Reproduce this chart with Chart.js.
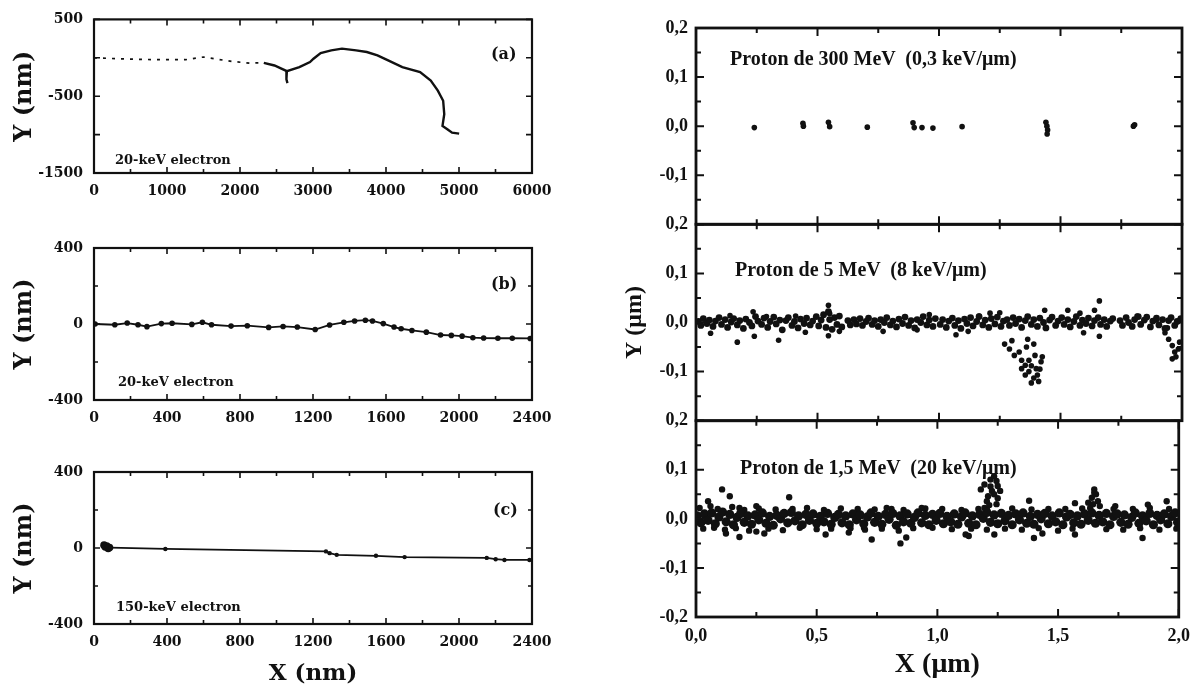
<!DOCTYPE html>
<html lang="fr">
<head>
<meta charset="UTF-8">
<title>Traces d'électrons et de protons</title>
<script src="https://cdn.jsdelivr.net/npm/chart.js"></script>
<style>
  html, body { margin: 0; padding: 0; background: #fff; overflow: hidden; }
  #page { position: relative; width: 1199px; height: 688px; }
  canvas { position: absolute; left: 0; top: 0; }
  .lbl { position: absolute; white-space: pre; color: #111; font-weight: bold; line-height: 1; }
  .l { font-family: "DejaVu Serif", serif; font-size: 13px; }
  .tag { font-family: "DejaVu Serif", serif; font-size: 16px; }
  .r { font-family: "Liberation Serif", serif; font-size: 20px; }
</style>
</head>
<body>
<div id="page">
  <canvas id="ga" width="1199" height="688"></canvas>
  <canvas id="gb" width="1199" height="688"></canvas>
  <canvas id="gc" width="1199" height="688"></canvas>
  <canvas id="g300" width="1199" height="688"></canvas>
  <canvas id="g5" width="1199" height="688"></canvas>
  <canvas id="g15" width="1199" height="688"></canvas>

  <div class="lbl tag" style="left:491px;top:46px">(a)</div>
  <div class="lbl l" style="left:115px;top:153px">20-keV electron</div>
  <div class="lbl tag" style="left:491px;top:276px">(b)</div>
  <div class="lbl l" style="left:118px;top:375px">20-keV electron</div>
  <div class="lbl tag" style="left:493px;top:502px">(c)</div>
  <div class="lbl l" style="left:116px;top:600px">150-keV electron</div>

  <div class="lbl r" style="left:730px;top:48px">Proton de 300 MeV  (0,3 keV/μm)</div>
  <div class="lbl r" style="left:735px;top:259px">Proton de 5 MeV  (8 keV/μm)</div>
  <div class="lbl r" style="left:740px;top:457px">Proton de 1,5 MeV  (20 keV/μm)</div>
</div>

<script>
  // ---- (a) électron 20 keV, X 0..6000 nm
  const aDottedX = [0, 331, 671, 963, 1255, 1499, 1645, 1888, 2131, 2326];
  const aDottedY = [0, -12, -21, -25, -25, 10, -12, -47, -69, -65];
  const aTrackX = [2326, 2472, 2642, 2813, 2959, 3007, 3105, 3250, 3397, 3591, 3737, 3883, 4029, 4224, 4467, 4613, 4710, 4783, 4798, 4774, 4840, 4905, 5002];
  const aTrackY = [-65, -100, -174, -121, -56, -12, 62, 97, 119, 97, 75, 32, -34, -121, -187, -296, -428, -559, -734, -887, -930, -975, -988];
  const aBranchX = [2642, 2636, 2650];
  const aBranchY = [-174, -280, -330];

  // ---- (b) électron 20 keV, X 0..2400 nm
  const bX = [6, 114, 182, 241, 290, 369, 428, 536, 594, 644, 751, 840, 957, 1036, 1114, 1212, 1291, 1369, 1428, 1487, 1526, 1585, 1644, 1683, 1742, 1821, 1899, 1958, 2017, 2076, 2135, 2213, 2292, 2390];
  const bY = [0, -4, 5, -4, -14, 2, 4, -2, 9, -4, -11, -9, -18, -13, -16, -29, -5, 9, 16, 20, 16, 2, -16, -25, -34, -43, -58, -60, -64, -72, -74, -75, -75, -76];

  // ---- (c) électron 150 keV
  const cX = [88, 391, 1271, 1291, 1330, 1545, 1702, 2152, 2201, 2249, 2386];
  const cY = [2, -5, -18, -27, -36, -41, -48, -52, -59, -63, -63];
  const cBlobX = [55, 62, 70, 78, 85];
  const cBlobY = [15, 5, 10, -3, 3];

  // ---- protons, X 0..2 µm, Y -0.2..0.2 µm
  const p300X = [0.24, 0.44, 0.442, 0.545, 0.55, 0.705, 0.893, 0.898, 0.93, 0.975, 1.095, 1.44, 1.444, 1.447, 1.445, 1.80, 1.805];
  const p300Y = [-0.003, 0.006, 0.0, 0.008, -0.001, -0.002, 0.007, -0.003, -0.003, -0.004, -0.001, 0.008, 0.0, -0.008, -0.016, 0.0, 0.003];

  const p5Core = [
    [0.01,0.002],[0.02,-0.006],[0.03,0.008],[0.045,-0.002],[0.055,0.005],[0.07,-0.008],[0.08,0.003],[0.095,0.01],[0.105,-0.004],[0.12,0.006],
    [0.13,-0.01],[0.145,0.001],[0.155,0.008],[0.17,-0.005],[0.18,0.004],[0.195,-0.012],[0.205,0.007],[0.22,0.0],[0.23,-0.007],[0.245,0.012],
    [0.255,0.003],[0.27,-0.004],[0.28,0.009],[0.295,-0.01],[0.305,0.002],[0.32,0.011],[0.33,-0.003],[0.345,0.005],[0.355,-0.015],[0.37,0.004],
    [0.38,0.01],[0.395,-0.006],[0.405,0.002],[0.42,-0.011],[0.43,0.007],[0.445,-0.002],[0.455,0.009],[0.47,-0.005],[0.48,0.003],[0.495,0.012],
    [0.505,-0.007],[0.515,0.005],[0.525,0.016],[0.535,-0.01],[0.545,0.022],[0.55,0.006],[0.56,-0.014],[0.57,0.01],[0.58,-0.004],[0.59,0.013],
    [0.6,-0.009],[0.625,0.004],[0.635,-0.005],[0.65,0.006],[0.66,-0.003],[0.675,0.008],[0.685,-0.006],[0.7,0.002],[0.71,0.009],[0.725,-0.004],
    [0.735,0.004],[0.75,-0.008],[0.76,0.006],[0.775,0.0],[0.785,0.01],[0.8,-0.005],[0.81,0.003],[0.825,-0.009],[0.835,0.007],[0.85,-0.002],
    [0.86,0.011],[0.875,-0.006],[0.885,0.004],[0.9,-0.011],[0.91,0.006],[0.925,0.0],[0.935,0.012],[0.95,-0.005],[0.96,0.005],[0.975,-0.008],
    [0.985,0.008],[1.005,-0.004],[1.015,0.006],[1.03,-0.01],[1.04,0.003],[1.055,0.009],[1.065,-0.006],[1.08,0.004],[1.09,-0.012],[1.105,0.007],
    [1.115,-0.002],[1.13,0.01],[1.14,-0.007],[1.155,0.002],[1.165,0.012],[1.18,-0.005],[1.19,0.005],[1.205,-0.01],[1.215,0.008],[1.23,-0.003],
    [1.24,0.011],[1.255,-0.008],[1.265,0.003],[1.28,0.006],[1.29,-0.006],[1.305,0.01],[1.315,-0.002],[1.33,0.007],[1.34,-0.01],[1.355,0.004],
    [1.365,0.012],[1.38,-0.004],[1.39,0.006],[1.405,-0.008],[1.415,0.009],[1.43,0.0],[1.44,-0.011],[1.455,0.005],[1.465,0.011],[1.48,-0.006],
    [1.49,0.003],[1.505,0.01],[1.515,-0.004],[1.53,0.006],[1.54,-0.009],[1.555,0.002],[1.565,0.012],[1.58,-0.006],[1.59,0.005],[1.605,-0.002],
    [1.615,0.009],[1.63,-0.007],[1.64,0.004],[1.655,0.01],[1.665,-0.004],[1.68,0.006],[1.69,-0.008],[1.705,0.003],[1.715,0.008],[1.745,0.004],
    [1.755,-0.006],[1.77,0.01],[1.78,0.0],[1.795,-0.008],[1.805,0.006],[1.82,0.012],[1.83,-0.004],[1.845,0.005],[1.855,0.011],[1.87,-0.009],
    [1.88,0.003],[1.895,0.009],[1.905,-0.005],[1.92,0.006],[1.93,-0.012],[1.945,0.004],[1.955,0.01],[1.97,-0.006],[1.98,0.002],[1.995,0.008]
  ];
  const p5Spread = [
    [0.06,-0.022],[0.17,-0.04],[0.24,-0.028],[0.34,-0.036],[0.235,0.022],[0.29,0.012],[0.41,0.013],[0.545,0.035],[0.55,0.018],[0.545,-0.027],
    [0.59,-0.018],[0.77,-0.018],[0.91,-0.015],[1.07,-0.025],[1.165,0.013],[1.21,0.019],[1.25,0.02],[1.435,0.025],[1.53,0.025],[1.58,0.019],
    [1.66,0.044],[1.64,0.025],[1.66,-0.028],[1.595,-0.021],[1.815,0.013],[1.895,0.005],[0.14,0.014],[0.45,-0.02],[0.96,0.016],[1.12,-0.018],
    [1.27,-0.044],[1.29,-0.054],[1.31,-0.067],[1.33,-0.06],[1.34,-0.077],[1.355,-0.087],[1.37,-0.1],[1.39,-0.113],[1.38,-0.123],[1.405,-0.107],
    [1.42,-0.08],[1.425,-0.07],[1.39,-0.044],[1.365,-0.034],[1.30,-0.037],[1.40,-0.094],[1.355,-0.107],[1.34,-0.094],[1.37,-0.077],[1.395,-0.067],
    [1.41,-0.12],[1.36,-0.05],[1.38,-0.088],[1.415,-0.095],
    [1.93,-0.021],[1.945,-0.034],[1.96,-0.047],[1.97,-0.06],[1.975,-0.07],[1.96,-0.074],[1.985,-0.054],[1.94,-0.011],[1.99,-0.04]
  ];

  const p15Core = [
    [0.005,0.006],[0.02,-0.008],[0.035,0.01],[0.05,-0.003],[0.065,0.012],[0.08,-0.01],[0.095,0.004],[0.11,0.014],[0.125,-0.006],[0.14,0.009],
    [0.155,-0.012],[0.17,0.003],[0.185,0.011],[0.2,-0.007],[0.215,0.006],[0.23,-0.011],[0.245,0.008],[0.26,-0.002],[0.275,0.012],[0.29,-0.009],
    [0.305,0.005],[0.32,-0.013],[0.335,0.007],[0.35,0.0],[0.365,0.011],[0.38,-0.008],[0.395,0.013],[0.41,-0.004],[0.425,0.006],[0.44,-0.012],
    [0.455,0.009],[0.47,-0.003],[0.485,0.01],[0.5,-0.009],[0.515,0.005],[0.53,-0.006],[0.545,0.011],[0.56,-0.011],[0.575,0.003],[0.59,0.009],
    [0.605,-0.008],[0.62,0.006],[0.635,-0.012],[0.65,0.01],[0.665,-0.002],[0.68,0.008],[0.695,-0.01],[0.71,0.004],[0.725,0.012],[0.74,-0.007],
    [0.755,0.005],[0.77,-0.011],[0.785,0.009],[0.8,-0.001],[0.815,0.011],[0.83,-0.013],[0.845,0.006],[0.86,-0.006],[0.875,0.01],[0.89,-0.009],
    [0.905,0.003],[0.92,0.012],[0.935,-0.008],[0.95,0.007],[0.965,-0.012],[0.98,0.009],[0.995,-0.003],[1.01,0.011],[1.025,-0.01],[1.04,0.005],
    [1.055,-0.006],[1.07,0.01],[1.085,-0.011],[1.1,0.004],[1.115,0.012],[1.13,-0.009],[1.145,0.006],[1.16,-0.012],[1.175,0.009],[1.19,0.001],
    [1.205,0.013],[1.22,-0.007],[1.235,0.008],[1.25,-0.01],[1.265,0.011],[1.28,-0.004],[1.295,0.007],[1.31,-0.012],[1.325,0.01],[1.34,-0.002],
    [1.355,0.012],[1.37,-0.009],[1.385,0.005],[1.4,-0.011],[1.415,0.009],[1.43,0.0],[1.445,0.011],[1.46,-0.01],[1.475,0.006],[1.49,-0.006],
    [1.505,0.012],[1.52,-0.012],[1.535,0.004],[1.55,0.009],[1.565,-0.008],[1.58,0.006],[1.595,-0.011],[1.61,0.01],[1.625,-0.003],[1.64,0.012],
    [1.655,-0.009],[1.67,0.007],[1.685,-0.006],[1.7,0.011],[1.715,-0.012],[1.73,0.005],[1.745,0.01],[1.76,-0.007],[1.775,0.008],[1.79,-0.011],
    [1.805,0.003],[1.82,0.012],[1.835,-0.009],[1.85,0.006],[1.865,-0.004],[1.88,0.011],[1.895,-0.012],[1.91,0.007],[1.925,-0.002],[1.94,0.01],
    [1.955,-0.01],[1.97,0.005],[1.985,0.012],[1.995,-0.007]
  ];
  const p15Spread = [
    [0.015,0.022],[0.03,-0.02],[0.06,0.026],[0.075,-0.018],[0.09,0.02],[0.12,-0.022],[0.15,0.024],[0.165,-0.019],[0.2,0.018],[0.22,-0.024],
    [0.26,0.021],[0.3,-0.02],[0.33,0.019],[0.36,-0.023],[0.4,0.02],[0.43,-0.018],[0.46,0.022],[0.5,-0.021],[0.53,0.018],[0.56,-0.02],
    [0.6,0.021],[0.64,-0.019],[0.67,0.02],[0.7,-0.022],[0.74,0.019],[0.77,-0.02],[0.81,0.02],[0.84,-0.024],[0.86,0.018],[0.9,-0.019],
    [0.95,0.021],[0.98,-0.018],[1.02,0.02],[1.06,-0.021],[1.1,0.018],[1.14,-0.02],[1.17,0.02],[1.28,-0.02],[1.31,0.021],[1.35,-0.022],
    [1.39,0.019],[1.42,-0.019],[1.46,0.02],[1.5,-0.024],[1.53,0.02],[1.56,-0.02],[1.6,0.021],[1.7,-0.021],[1.73,0.02],[1.77,-0.022],
    [1.81,0.02],[1.84,-0.019],[1.88,0.022],[1.92,-0.022],[1.96,0.02],[1.99,-0.02],
    [0.108,0.06],[0.05,0.036],[0.14,0.046],[0.386,0.044],[0.18,0.022],[0.25,0.026],[0.18,-0.037],[0.124,-0.03],[0.25,-0.026],[0.283,-0.03],
    [0.537,-0.032],[0.633,-0.028],[0.696,-0.018],[0.728,-0.042],[0.847,-0.05],[0.871,-0.038],[0.79,0.022],[0.935,0.022],[1.117,-0.032],[1.13,-0.035],
    [1.236,-0.032],[1.205,-0.022],[1.40,-0.039],[1.435,-0.03],[1.38,0.037],[1.57,0.032],[1.57,-0.032],[1.85,-0.039],[1.872,0.029],[1.95,0.036],
    [1.737,0.026],[1.205,0.019],
    [1.18,0.06],[1.195,0.07],[1.22,0.08],[1.235,0.087],[1.245,0.077],[1.25,0.067],[1.226,0.057],[1.21,0.046],[1.205,0.036],[1.235,0.05],
    [1.26,0.057],[1.195,0.022],[1.245,0.03],[1.22,0.066],[1.215,0.028],[1.25,0.042],
    [1.65,0.06],[1.657,0.05],[1.64,0.043],[1.665,0.036],[1.625,0.033],[1.673,0.026],[1.633,0.022],[1.65,0.053],[1.645,0.03]
  ];

  const INK = '#111';
  const serifL = 'DejaVu Serif';
  const serifR = 'Liberation Serif';

  function xy(xs, ys) { return xs.map((x, i) => ({ x: x, y: ys[i] })); }
  function pairs(list) { return list.map(p => ({ x: p[0], y: p[1] })); }
  function onStep(v, step) { const r = v / step; return Math.abs(r - Math.round(r)) < 1e-6; }

  // cadre + graduations internes sur les 4 côtés
  const frameTicks = {
    id: 'frame',
    afterDatasetsDraw(chart, args, o) {
      const ctx = chart.ctx, a = chart.chartArea;
      const sx = chart.scales.x, sy = chart.scales.y;
      ctx.save();
      ctx.strokeStyle = INK;
      ctx.lineWidth = o.width;
      ctx.strokeRect(a.left, a.top, a.right - a.left, a.bottom - a.top);
      ctx.lineWidth = o.tickWidth;
      ctx.beginPath();
      sx.ticks.forEach(t => {
        const p = sx.getPixelForValue(t.value);
        const len = onStep(t.value, o.majorX) ? o.major : o.minor;
        ctx.moveTo(p, a.bottom); ctx.lineTo(p, a.bottom - len);
        ctx.moveTo(p, a.top); ctx.lineTo(p, a.top + len);
      });
      sy.ticks.forEach(t => {
        const p = sy.getPixelForValue(t.value);
        const len = onStep(t.value, o.majorY) ? o.major : o.minor;
        ctx.moveTo(a.left, p); ctx.lineTo(a.left + len, p);
        ctx.moveTo(a.right, p); ctx.lineTo(a.right - len, p);
      });
      ctx.stroke();
      ctx.restore();
    }
  };

  function panel(id, p) {
    return new Chart(document.getElementById(id), {
      type: 'scatter',
      data: { datasets: p.datasets },
      plugins: [frameTicks],
      options: {
        responsive: false,
        animation: false,
        events: [],
        layout: { padding: p.pad },
        plugins: { legend: { display: false }, tooltip: { enabled: false }, frame: p.frame },
        scales: {
          x: {
            type: 'linear', min: p.x.min, max: p.x.max,
            grid: { display: false, drawTicks: false }, border: { display: false },
            ticks: { stepSize: p.x.step, autoSkip: false, maxRotation: 0, padding: p.x.pad,
                     display: p.x.labels, color: INK, font: p.font, callback: p.x.cb },
            title: p.x.title || { display: false },
            afterFit: s => { s.height = p.x.h; }
          },
          y: {
            type: 'linear', min: p.y.min, max: p.y.max,
            grid: { display: false, drawTicks: false }, border: { display: false },
            ticks: { stepSize: p.y.step, autoSkip: false, padding: p.y.pad,
                     color: INK, font: p.font, callback: p.y.cb },
            title: p.y.title || { display: false },
            afterFit: s => { s.width = p.y.w; }
          }
        }
      }
    });
  }

  // ------- colonne de gauche (électrons)
  const fontL = { family: serifL, size: 14, weight: 'bold' };
  const yTitleL = { display: true, text: 'Y (nm)', color: INK,
                    font: { family: serifL, size: 24, weight: 'bold', lineHeight: 1.2 }, padding: { top: 6, bottom: 0 } };
  const line = (data, w, r, dash) => ({ data, showLine: true, borderColor: INK, backgroundColor: INK,
                                        borderWidth: w, pointRadius: r, pointBorderWidth: 0, borderDash: dash || [] });
  const dots = (data, r) => ({ data, showLine: false, backgroundColor: INK, borderColor: INK, pointRadius: r, pointBorderWidth: 0 });

  const lab400 = v => onStep(v, 400) ? String(v) : '';

  panel('ga', {
    pad: { left: 4, top: 19, right: 1199 - 532, bottom: 688 - 173 - 30 },
    font: fontL,
    frame: { width: 2.2, tickWidth: 1.6, major: 6, minor: 4, majorX: 1000, majorY: 500 },
    x: { min: 0, max: 6000, step: 500, pad: 10, h: 30, labels: true, cb: v => onStep(v, 1000) ? String(v) : '' },
    y: { min: -1500, max: 500, step: 500, pad: 11, w: 90, title: yTitleL,
         cb: v => onStep(v - 500, 1000) ? String(v) : '' },
    datasets: [
      line(xy(aDottedX, aDottedY), 1.7, 0, [3, 6]),
      line(xy(aTrackX, aTrackY), 2.4, 0),
      line(xy(aBranchX, aBranchY), 2.4, 0)
    ]
  });

  panel('gb', {
    pad: { left: 4, top: 248, right: 1199 - 532, bottom: 688 - 400 - 30 },
    font: fontL,
    frame: { width: 2.2, tickWidth: 1.6, major: 6, minor: 4, majorX: 400, majorY: 400 },
    x: { min: 0, max: 2400, step: 200, pad: 10, h: 30, labels: true, cb: lab400 },
    y: { min: -400, max: 400, step: 200, pad: 11, w: 90, title: yTitleL, cb: lab400 },
    datasets: [ line(xy(bX, bY), 1.8, 2.8) ]
  });

  panel('gc', {
    pad: { left: 4, top: 472, right: 1199 - 532, bottom: 2 },
    font: fontL,
    frame: { width: 2.2, tickWidth: 1.6, major: 6, minor: 4, majorX: 400, majorY: 400 },
    x: { min: 0, max: 2400, step: 200, pad: 10, h: 686 - 624, labels: true, cb: lab400,
         title: { display: true, text: 'X (nm)', color: INK,
                  font: { family: serifL, size: 23, weight: 'bold', lineHeight: 1 }, padding: { top: 0, bottom: 0 } } },
    y: { min: -400, max: 400, step: 200, pad: 11, w: 90, title: yTitleL, cb: lab400 },
    datasets: [ line(xy(cX, cY), 1.7, 2.2), dots(xy(cBlobX, cBlobY), 3.8) ]
  });

  // ------- colonne de droite (protons)
  const fontR = { family: serifR, size: 18, weight: 'bold' };
  const comma = v => (Math.round(v * 10) / 10).toFixed(1).replace('.', ',');
  const labY = keepBottom => v => (onStep(v, 0.1) && (keepBottom || v > -0.15)) ? comma(v) : '';
  const topR = [28, 224.3, 420.7, 617];
  const frameR = { width: 2.8, tickWidth: 2, major: 8, minor: 5, majorX: 0.5, majorY: 0.1 };
  const xR = (labels, h, title) => ({ min: 0, max: 2, step: 0.25, pad: 9, h, labels, title,
                                      cb: v => onStep(v, 0.5) ? comma(v) : '' });
  const yR = (keepBottom, title) => ({ min: -0.2, max: 0.2, step: 0.05, pad: 8, w: 80, title, cb: labY(keepBottom) });

  panel('g300', {
    pad: { left: 616, top: topR[0], right: 1199 - 1182, bottom: 688 - topR[1] },
    font: fontR, frame: frameR,
    x: xR(false, 0),
    y: yR(false),
    datasets: [ dots(xy(p300X, p300Y), 2.8) ]
  });

  panel('g5', {
    pad: { left: 616, top: topR[1], right: 1199 - 1182, bottom: 688 - topR[2] },
    font: fontR, frame: frameR,
    x: xR(false, 0),
    y: yR(false, { display: true, text: 'Y (μm)', color: INK,
                   font: { family: serifR, size: 24, weight: 'bold', lineHeight: 1.2 }, padding: { top: 4, bottom: 0 } }),
    datasets: [ dots(pairs(p5Core), 3.4), dots(pairs(p5Spread), 2.8) ]
  });

  panel('g15', {
    pad: { left: 616, top: topR[2], right: 1199 - 1182, bottom: 9 },
    font: fontR, frame: frameR,
    x: xR(true, 679 - topR[3], { display: true, text: 'X (μm)', color: INK,
                                 font: { family: serifR, size: 28, weight: 'bold', lineHeight: 1 }, padding: { top: 0, bottom: 0 } }),
    y: yR(true),
    datasets: [ dots(pairs(p15Core), 4.6), dots(pairs(p15Spread), 3.2) ]
  });
</script>
</body>
</html>
